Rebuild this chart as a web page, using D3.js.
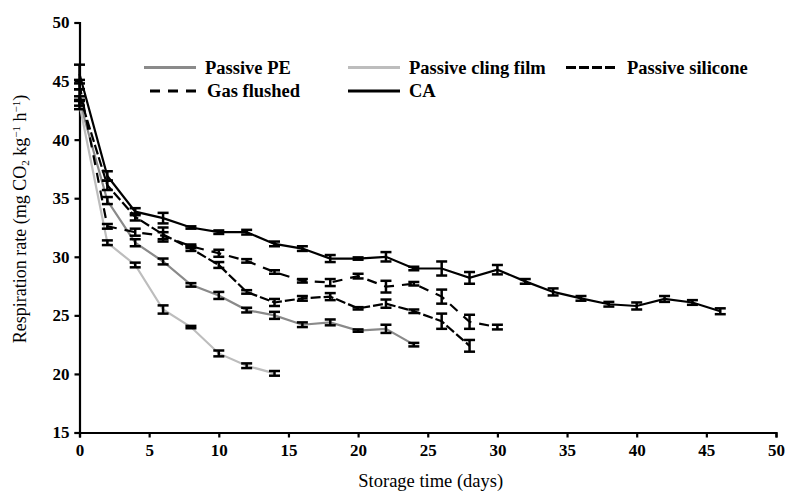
<!DOCTYPE html>
<html>
<head>
<meta charset="utf-8">
<script src="https://cdn.jsdelivr.net/npm/d3@7"></script>
<style>
  body { margin: 0; background: #fff; }
  text { font-family: "Liberation Serif", "Times New Roman", serif; fill: #000; }
</style>
</head>
<body>
<svg id="chart" width="788" height="495"></svg>
<script>
// storage days for each treatment
const peDays = [0, 2, 4, 6, 8, 10, 12, 14, 16, 18, 20, 22, 24];
const clingDays = [0, 2, 4, 6, 8, 10, 12, 14];
const siliconeDays = [0, 2, 4, 6, 8, 10, 12, 14, 16, 18, 20, 22, 24, 26, 28];
const gasDays = [0, 2, 4, 6, 8, 10, 12, 14, 16, 18, 20, 22, 24, 26, 28, 30];
const caDays = [0, 2, 4, 6, 8, 10, 12, 14, 16, 18, 20, 22, 24, 26, 28, 30, 32, 34, 36, 38, 40, 42, 44, 46];

// respiration rate (mg CO2 kg-1 h-1)
const peRate = [43.3, 34.8, 31.2, 29.6, 27.6, 26.7, 25.45, 25.0, 24.2, 24.4, 23.7, 23.85, 22.5];
const peErr = [0.4, 0.3, 0.3, 0.25, 0.15, 0.3, 0.2, 0.3, 0.2, 0.25, 0.1, 0.35, 0.15];
const clingRate = [43.0, 31.2, 29.3, 25.5, 24.0, 21.75, 20.7, 20.05];
const clingErr = [0.4, 0.2, 0.2, 0.35, 0.1, 0.25, 0.2, 0.2];
const siliconeRate = [43.8, 36.1, 33.4, 31.9, 30.7, 29.3, 27.0, 26.1, 26.45, 26.6, 25.6, 26.0, 25.35, 24.5, 22.4];
const siliconeErr = [0.5, 0.4, 0.3, 0.6, 0.2, 0.25, 0.15, 0.3, 0.2, 0.3, 0.1, 0.35, 0.15, 0.65, 0.5];
const gasRate = [44.7, 32.6, 32.1, 31.8, 30.9, 30.3, 29.65, 28.7, 27.95, 27.8, 28.35, 27.45, 27.7, 26.6, 24.45, 24.0];
const gasErr = [0.4, 0.2, 0.3, 0.3, 0.15, 0.3, 0.15, 0.15, 0.15, 0.3, 0.2, 0.5, 0.15, 0.6, 0.6, 0.2];
const caRate = [45.6, 36.9, 33.85, 33.3, 32.5, 32.1, 32.1, 31.1, 30.7, 29.85, 29.85, 30.0, 29.0, 29.0, 28.2, 28.9, 27.9, 27.0, 26.45, 25.95, 25.8, 26.4, 26.1, 25.35];
const caErr = [0.8, 0.4, 0.3, 0.45, 0.1, 0.15, 0.2, 0.2, 0.2, 0.3, 0.1, 0.4, 0.15, 0.6, 0.5, 0.4, 0.2, 0.3, 0.2, 0.2, 0.3, 0.25, 0.2, 0.25];

const xTicks = [0, 5, 10, 15, 20, 25, 30, 35, 40, 45, 50];
const yTicks = [15, 20, 25, 30, 35, 40, 45, 50];

const series = [
  { name: 'Passive PE', days: peDays, rate: peRate, err: peErr, color: '#8a8a8a', dash: null },
  { name: 'Passive cling film', days: clingDays, rate: clingRate, err: clingErr, color: '#bdbdbd', dash: null },
  { name: 'Passive silicone', days: siliconeDays, rate: siliconeRate, err: siliconeErr, color: '#000', dash: '10,3' },
  { name: 'Gas flushed', days: gasDays, rate: gasRate, err: gasErr, color: '#000', dash: '10,8' },
  { name: 'CA', days: caDays, rate: caRate, err: caErr, color: '#000', dash: null }
];

const svg = d3.select('#chart');
const x = d3.scaleLinear().domain([0, 50]).range([79.5, 776]);
const y = d3.scaleLinear().domain([15, 50]).range([432.5, 22.5]);

// axes
const xAxis = svg.append('g')
  .attr('transform', 'translate(0,' + y(15) + ')')
  .call(d3.axisBottom(x).tickValues(xTicks).tickSize(5).tickPadding(6).tickFormat(d3.format('d')));
const yAxis = svg.append('g')
  .attr('transform', 'translate(' + x(0) + ',0)')
  .call(d3.axisLeft(y).tickValues(yTicks).tickSize(5).tickPadding(5).tickFormat(d3.format('d')));

[xAxis, yAxis].forEach(ax => {
  ax.select('.domain').attr('stroke', '#000').attr('stroke-width', 2.2);
  ax.selectAll('.tick line').attr('stroke', '#000').attr('stroke-width', 2.2);
  ax.selectAll('.tick text')
    .style('font-family', '"Liberation Serif", serif')
    .style('font-size', '17px')
    .style('font-weight', 'bold')
    .attr('fill', '#000');
});

// lines first, then the error bars over them
const line = d3.line()
  .x(d => x(d.day))
  .y(d => y(d.v));

series.forEach(s => {
  const pts = s.days.map((day, i) => ({ day: day, v: s.rate[i], e: s.err[i] }));
  s.pts = pts;
  svg.append('path')
    .datum(pts)
    .attr('d', line)
    .attr('fill', 'none')
    .attr('stroke', s.color)
    .attr('stroke-width', 2.2)
    .attr('stroke-dasharray', s.dash);
});

const cap = 5.5;
series.forEach(s => {
  const g = svg.append('g').selectAll('g')
    .data(s.pts)
    .enter()
    .append('g');
  g.append('line')
    .attr('x1', d => x(d.day)).attr('x2', d => x(d.day))
    .attr('y1', d => y(d.v - d.e)).attr('y2', d => y(d.v + d.e))
    .attr('stroke', '#000').attr('stroke-width', 2.5);
  g.append('line')
    .attr('x1', d => x(d.day) - cap).attr('x2', d => x(d.day) + cap)
    .attr('y1', d => y(d.v + d.e)).attr('y2', d => y(d.v + d.e))
    .attr('stroke', '#000').attr('stroke-width', 2.5);
  g.append('line')
    .attr('x1', d => x(d.day) - cap).attr('x2', d => x(d.day) + cap)
    .attr('y1', d => y(d.v - d.e)).attr('y2', d => y(d.v - d.e))
    .attr('stroke', '#000').attr('stroke-width', 2.5);
});

// legend, two rows
const legendPos = [
  { x: 144, y: 67.5 },
  { x: 348, y: 67.5 },
  { x: 566, y: 67.5 },
  { x: 150, y: 91 },
  { x: 348, y: 91 }
];
series.forEach((s, i) => {
  const p = legendPos[i];
  const len = i === 3 ? 48 : 52;
  svg.append('line')
    .attr('x1', p.x).attr('x2', p.x + len)
    .attr('y1', p.y).attr('y2', p.y)
    .attr('stroke', s.color)
    .attr('stroke-width', 2.8)
    .attr('stroke-dasharray', s.dash);
  svg.append('text')
    .attr('x', p.x + len + 9)
    .attr('y', p.y + 6)
    .style('font-size', '18.5px')
    .style('font-weight', 'bold')
    .text(s.name);
});

// axis titles
svg.append('text')
  .attr('x', x(25) + 3)
  .attr('y', 487)
  .attr('text-anchor', 'middle')
  .style('font-size', '18.5px')
  .text('Storage time (days)');

const yTitle = svg.append('text')
  .attr('transform', 'translate(26,' + 219 + ') rotate(-90)')
  .attr('text-anchor', 'middle')
  .style('font-size', '18px');
yTitle.append('tspan').text('Respiration rate (mg CO');
yTitle.append('tspan').attr('baseline-shift', '-25%').style('font-size', '11px').text('2');
yTitle.append('tspan').text(' kg');
yTitle.append('tspan').attr('baseline-shift', 'super').style('font-size', '11px').text('\u22121');
yTitle.append('tspan').text(' h');
yTitle.append('tspan').attr('baseline-shift', 'super').style('font-size', '11px').text('\u22121');
yTitle.append('tspan').text(')');
</script>
</body>
</html>
